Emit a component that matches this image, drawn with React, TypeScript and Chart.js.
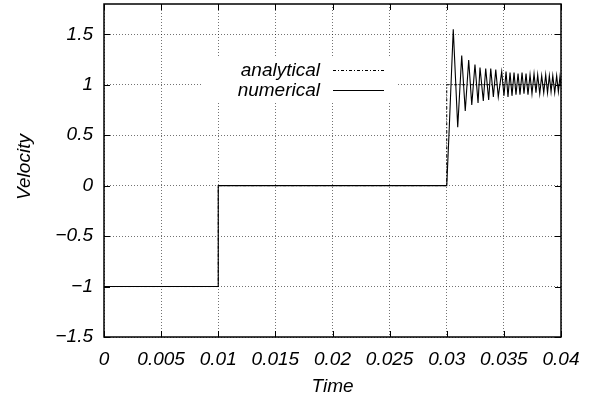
import React, { useEffect, useRef } from 'react';
import { Chart, registerables } from 'chart.js';

Chart.register(...registerables);

// ---- data ----
const analyticalTime = [0, 0.01, 0.01, 0.03, 0.03, 0.04];
const analyticalVelocity = [-1, -1, 0, 0, 1, 1];

const numericalTime = [
  0, 0.01, 0.01, 0.03, 0.03023, 0.03057, 0.03096, 0.03131, 0.03162, 0.03192,
  0.03219, 0.03247, 0.03274, 0.03291, 0.0332, 0.03341, 0.03367, 0.03385, 0.03408, 0.03429,
  0.03451, 0.03481, 0.03501, 0.03519, 0.03536, 0.03554, 0.03571, 0.03589, 0.03606, 0.03624,
  0.03641, 0.03659, 0.03676, 0.03694, 0.03711, 0.03729, 0.03746, 0.03764, 0.03781, 0.03796,
  0.03814, 0.03831, 0.03849, 0.03866, 0.03882, 0.03898, 0.03913, 0.03928, 0.03945, 0.03962,
  0.03977, 0.03991, 0.04,
];
const numericalVelocity = [
  -1, -1, 0, 0, 0.6, 1.55, 0.58, 1.29, 0.74, 1.245,
  0.8, 1.2, 0.82, 1.17, 0.84, 1.16, 0.85, 1.16, 0.88, 1.15,
  0.88, 1.13, 0.89, 1.13, 0.88, 1.12, 0.89, 1.12, 0.9, 1.11,
  0.9, 1.12, 0.91, 1.11, 0.9, 1.1, 0.91, 1.11, 0.92, 1.1,
  0.91, 1.09, 0.92, 1.1, 0.92, 1.09, 0.93, 1.09, 0.92, 1.09,
  0.93, 1.08, 1.0,
];

const xTickValues = [0, 0.005, 0.01, 0.015, 0.02, 0.025, 0.03, 0.035, 0.04];
const xTickLabels = ['0', '0.005', '0.01', '0.015', '0.02', '0.025', '0.03', '0.035', '0.04'];
const yTickValues = [-1.5, -1, -0.5, 0, 0.5, 1, 1.5];
const yTickLabels = ['\u22121.5', '\u22121', '\u22120.5', '0', '0.5', '1', '1.5'];
const seriesLabels = ['analytical', 'numerical'];
const xTitle = 'Time';
const yTitle = 'Velocity';

const FONT = '"Liberation Sans", Arial, Helvetica, sans-serif';
const FS = 19;

const framePlugin = {
  id: 'frame',
  afterDatasetsDraw(chart: any) {
    const { ctx, chartArea: a, scales } = chart;
    ctx.save();
    // legend background
    ctx.fillStyle = '#ffffff';
    ctx.fillRect(202, 58, 195, 43);
    ctx.fillStyle = '#000';
    ctx.font = `italic ${FS}px ${FONT}`;
    ctx.textAlign = 'right';
    ctx.textBaseline = 'alphabetic';
    ctx.fillText(seriesLabels[0], 320, 76);
    ctx.fillText(seriesLabels[1], 320, 96);
    ctx.strokeStyle = '#000';
    ctx.lineWidth = 1;
    ctx.setLineDash([3, 2, 1, 2]);
    ctx.beginPath();
    ctx.moveTo(333, 70.5);
    ctx.lineTo(384, 70.5);
    ctx.stroke();
    ctx.setLineDash([]);
    ctx.beginPath();
    ctx.moveTo(333, 90.5);
    ctx.lineTo(384, 90.5);
    ctx.stroke();

    // inward tick marks
    const tl = 6;
    ctx.beginPath();
    scales.x.ticks.forEach((t: any) => {
      const px = Math.round(scales.x.getPixelForValue(t.value)) + 0.5;
      ctx.moveTo(px, a.bottom);
      ctx.lineTo(px, a.bottom - tl);
      ctx.moveTo(px, a.top);
      ctx.lineTo(px, a.top + tl);
    });
    scales.y.ticks.forEach((t: any) => {
      const py = Math.round(scales.y.getPixelForValue(t.value)) + 0.5;
      ctx.moveTo(a.left, py);
      ctx.lineTo(a.left + tl, py);
      ctx.moveTo(a.right, py);
      ctx.lineTo(a.right - tl, py);
    });
    ctx.stroke();

    // frame
    ctx.lineWidth = 1.5;
    ctx.strokeRect(a.left, a.top, a.right - a.left, a.bottom - a.top);

    // y axis title
    ctx.translate(25, 167);
    ctx.rotate(-Math.PI / 2);
    ctx.textAlign = 'center';
    ctx.textBaseline = 'middle';
    ctx.fillText(yTitle, 0, 0);
    ctx.restore();
  },
};

export default function App() {
  const ref = useRef<HTMLCanvasElement | null>(null);

  useEffect(() => {
    document.body.style.margin = '0';
    const canvas = ref.current;
    if (!canvas) return;
    const toPts = (xs: number[], ys: number[]) => xs.map((x, i) => ({ x, y: ys[i] }));
    const gridColor = 'rgba(0,0,0,0.55)';
    const chart = new Chart(canvas, {
      type: 'line',
      data: {
        datasets: [
          {
            label: seriesLabels[0],
            data: toPts(analyticalTime, analyticalVelocity),
            borderColor: '#000',
            borderWidth: 1,
            borderDash: [3, 2, 1, 2],
            pointRadius: 0,
            tension: 0,
            fill: false,
          },
          {
            label: seriesLabels[1],
            data: toPts(numericalTime, numericalVelocity),
            borderColor: '#000',
            borderWidth: 1.1,
            pointRadius: 0,
            tension: 0,
            fill: false,
          },
        ],
      },
      options: {
        animation: false,
        responsive: false,
        events: [],
        layout: { padding: { top: 4, right: 38, left: 0, bottom: 0 } },
        plugins: {
          legend: { display: false },
          tooltip: { enabled: false },
        },
        scales: {
          x: {
            type: 'linear',
            min: 0,
            max: 0.04,
            afterBuildTicks: (s: any) => {
              s.ticks = xTickValues.map((v) => ({ value: v }));
            },
            afterFit: (s: any) => {
              s.height = 62;
              s.paddingLeft = 0;
              s.paddingRight = 0;
            },
            ticks: {
              autoSkip: false,
              maxRotation: 0,
              padding: 11,
              color: '#000',
              font: { family: FONT, size: FS, style: 'italic' },
              callback: (_v: any, i: number) => xTickLabels[i],
            },
            grid: { color: gridColor, lineWidth: 1, drawTicks: false, borderDash: [1, 2] } as any,
            border: { display: false, dash: [1, 2] },
            title: {
              display: true,
              text: xTitle,
              color: '#000',
              font: { family: FONT, size: FS, style: 'italic' },
              padding: { top: 0, bottom: 1 },
            },
          },
          y: {
            type: 'linear',
            min: -1.5,
            max: 1.8,
            afterBuildTicks: (s: any) => {
              s.ticks = yTickValues.map((v) => ({ value: v }));
            },
            afterFit: (s: any) => {
              s.width = 104;
              s.paddingTop = 0;
              s.paddingBottom = 0;
            },
            ticks: {
              autoSkip: false,
              padding: 11,
              color: '#000',
              font: { family: FONT, size: FS, style: 'italic' },
              callback: (_v: any, i: number) => yTickLabels[i],
            },
            grid: { color: gridColor, lineWidth: 1, drawTicks: false, borderDash: [1, 2] } as any,
            border: { display: false, dash: [1, 2] },
            title: { display: false },
          },
        },
      } as any,
      plugins: [framePlugin],
    });
    return () => chart.destroy();
  }, []);

  return (
    <div style={{ width: 599, height: 399, background: '#fff' }}>
      <canvas ref={ref} width={599} height={399} style={{ display: 'block' }} />
    </div>
  );
}
